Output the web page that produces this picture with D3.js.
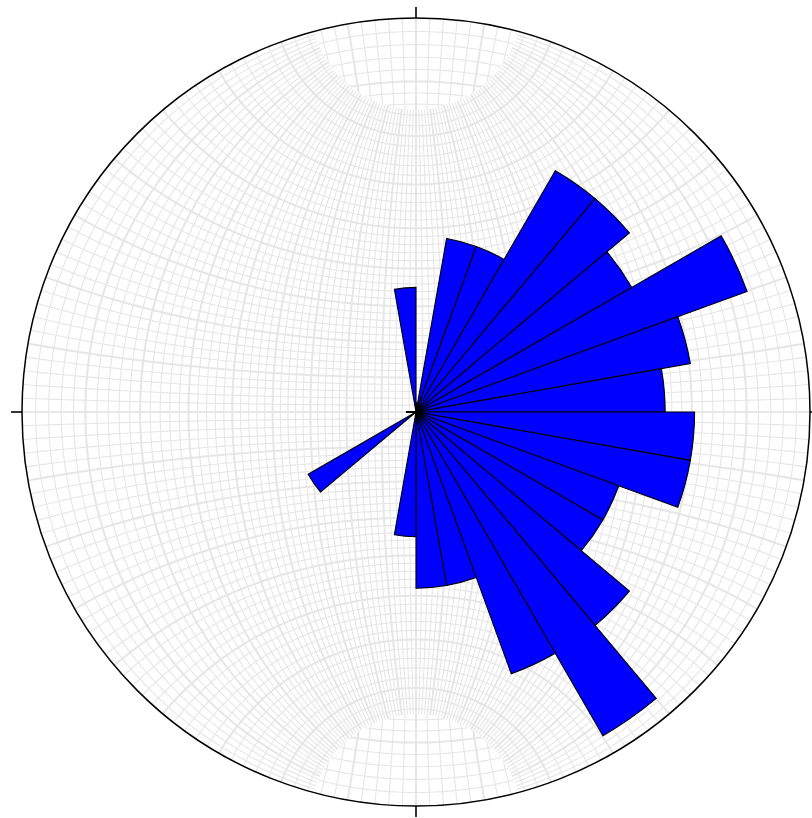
<!DOCTYPE html>
<html>
<head>
<meta charset="utf-8">
<script src="https://cdn.jsdelivr.net/npm/d3@7"></script>
<style>
  body { margin: 0; background: #ffffff; }
  svg { display: block; }
</style>
</head>
<body>
<div class="d3-content"></div>
<script>
/************************/
/*      Dimensions      */
/************************/
const width = 812;
const height = 818;
const cx = 416;
const cy = 412;
const radius = 394;


/**********************/
/*        Data        */
/**********************/
// start azimuth of each 10 degree bin (clockwise from north)
const binStarts = [0, 10, 20, 30, 40, 50, 60, 70, 80, 90, 100, 110,
                   120, 130, 140, 150, 160, 170, 180, 190, 200, 210, 220, 230,
                   240, 250, 260, 270, 280, 290, 300, 310, 320, 330, 340, 350];
// number of measurements falling in each bin
const binCounts = [0, 2, 2, 5, 5, 4, 8, 5, 4, 5, 5, 3,
                   3, 5, 9, 5, 2, 2, 1, 0, 0, 0, 0, 1,
                   0, 0, 0, 0, 0, 0, 0, 0, 0, 0, 0, 1];
const binWidth = 10;
const maxCount = 10;

// Wulff net: fine lines every 2 degrees, heavy ones every 10
const gridStep = 2;
const majorStep = 10;
const capRadius = 15;   // around each pole the net is drawn turned by 90 degrees


/**********************/
/*       Colors       */
/**********************/
const barColor = '#0000ff';
const barEdge = '#000000';
const gridColor = '#e6e6e6';
const frameColor = '#000000';


/****************************/
/*    Declare the scales    */
/****************************/
const angleScale = d3.scaleLinear()
  .domain([0, 360])
  .range([0, 2 * Math.PI]);

const rScale = d3.scaleSqrt()
  .domain([0, maxCount])
  .range([0, radius]);

const projection = d3.geoStereographic()
  .scale(radius)
  .translate([cx, cy])
  .clipAngle(null);
const turnedProjection = d3.geoStereographic()
  .scale(radius)
  .translate([cx, cy])
  .angle(90)
  .clipAngle(null);

const geoPath = d3.geoPath(projection);
const turnedPath = d3.geoPath(turnedProjection);


/*******************************/
/*    Append the containers    */
/*******************************/
const svg = d3.select('.d3-content')
  .append('svg')
    .attr('width', width)
    .attr('height', height)
    .attr('viewBox', `0 0 ${width} ${height}`);

const defs = svg.append('defs');
const gridGroup = svg.append('g');
const roseGroup = svg.append('g')
  .attr('transform', `translate(${cx}, ${cy})`);


/*************************/
/*    Stereonet grid     */
/*************************/
const isMajor = v => Math.abs(v % majorStep) < 1e-6;

const meridian = lon => ({
  type: 'LineString',
  coordinates: d3.range(-90, 90.01, 1).map(lat => [lon, lat])
});
const parallel = lat => ({
  type: 'LineString',
  coordinates: d3.range(-90, 90.01, 1).map(lon => [lon, lat])
});

const gridLines = [];
d3.range(-90 + gridStep, 90, gridStep).forEach(lon => {
  gridLines.push({ geo: meridian(lon), major: isMajor(lon) });
});
d3.range(-90 + gridStep, 90, gridStep).forEach(lat => {
  gridLines.push({ geo: parallel(lat), major: isMajor(lat) });
});
gridLines.sort((a, b) => a.major - b.major);

// the two polar caps, and everything outside them
const caps = [90, -90].map(lat => d3.geoCircle().center([0, lat]).radius(capRadius)());
const capsPath = caps.map(c => geoPath(c)).join('');

defs.append('clipPath')
    .attr('id', 'inside-caps')
  .append('path')
    .attr('d', capsPath);
defs.append('clipPath')
    .attr('id', 'outside-caps')
  .append('path')
    .attr('d', `M0,0H${width}V${height}H0Z` + capsPath)
    .attr('clip-rule', 'evenodd');

const drawGrid = (group, pathGen) => {
  group
    .selectAll('path')
    .data(gridLines)
    .join('path')
      .attr('d', d => pathGen(d.geo))
      .attr('fill', 'none')
      .attr('stroke', gridColor)
      .attr('stroke-width', d => d.major ? 2 : 1.1);
};

drawGrid(gridGroup.append('g').attr('clip-path', 'url(#outside-caps)'), geoPath);
drawGrid(gridGroup.append('g').attr('clip-path', 'url(#inside-caps)'), turnedPath);


/****************************/
/*   Centre mark and bars   */
/****************************/
roseGroup.append('path')
  .attr('d', 'M-10,0H10M0,-10V10')
  .attr('stroke', '#000')
  .attr('stroke-width', 2);

const arc = d3.arc()
  .innerRadius(0)
  .outerRadius(d => rScale(d.count))
  .startAngle(d => angleScale(d.start))
  .endAngle(d => angleScale(d.start + binWidth));

const bins = binStarts
  .map((start, i) => ({ start: start, count: binCounts[i] }))
  .filter(d => d.count > 0);

roseGroup
  .selectAll('path.bar')
  .data(bins)
  .join('path')
    .attr('class', 'bar')
    .attr('d', arc)
    .attr('fill', barColor)
    .attr('stroke', barEdge)
    .attr('stroke-width', 1.1);


/*******************************/
/*     Frame and the ticks     */
/*******************************/
svg.append('circle')
  .attr('cx', cx)
  .attr('cy', cy)
  .attr('r', radius)
  .attr('fill', 'none')
  .attr('stroke', frameColor)
  .attr('stroke-width', 1.5);

const tickAngles = [0, 90, 180, 270];
svg.selectAll('line.tick')
  .data(tickAngles)
  .join('line')
    .attr('class', 'tick')
    .attr('x1', d => cx + radius * Math.sin(angleScale(d)))
    .attr('y1', d => cy - radius * Math.cos(angleScale(d)))
    .attr('x2', d => cx + (radius + 11) * Math.sin(angleScale(d)))
    .attr('y2', d => cy - (radius + 11) * Math.cos(angleScale(d)))
    .attr('stroke', frameColor)
    .attr('stroke-width', 1.6);
</script>
</body>
</html>
